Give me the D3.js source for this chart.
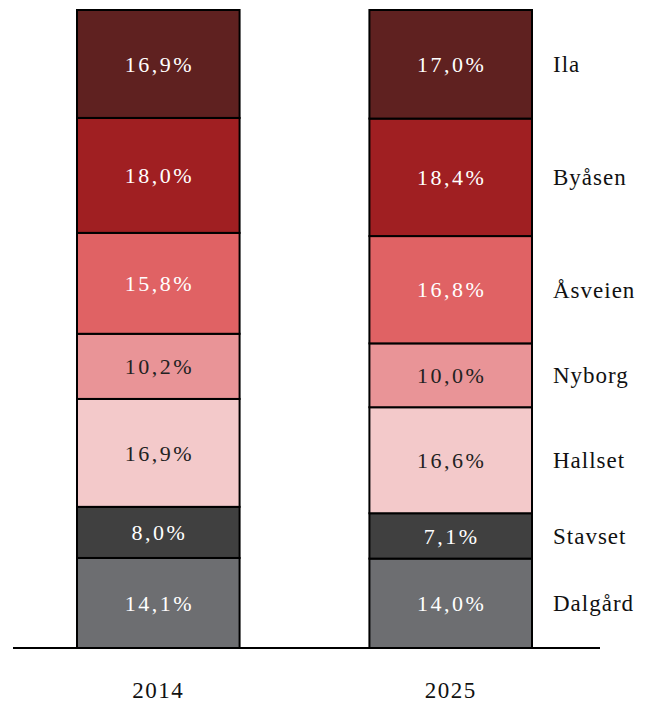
<!DOCTYPE html>
<html>
<head>
<meta charset="utf-8">
<script src="https://cdn.jsdelivr.net/npm/d3@7"></script>
<style>
  html, body { margin: 0; padding: 0; background: #fff; }
  svg text { font-family: "Liberation Serif", "DejaVu Serif", serif; }
</style>
</head>
<body>
<svg id="chart" width="649" height="704"></svg>
<script>
// Share of population per district, stacked from bottom to top
const years = ["2014", "2025"];
const districts = ["Dalgård", "Stavset", "Hallset", "Nyborg", "Åsveien", "Byåsen", "Ila"];
const values2014 = [14.1, 8.0, 16.9, 10.2, 15.8, 18.0, 16.9];
const values2025 = [14.0, 7.1, 16.6, 10.0, 16.8, 18.4, 17.0];
const colors = ["#6d6e71", "#404040", "#f3c9ca", "#e99497", "#e06264", "#a01f22", "#5f2120"];
const labelColors = ["#ffffff", "#ffffff", "#222222", "#222222", "#ffffff", "#ffffff", "#ffffff"];

const rows = years.map((y, i) => {
  const vals = i === 0 ? values2014 : values2025;
  const r = { year: y };
  districts.forEach((d, j) => { r[d] = vals[j]; });
  return r;
});

const svg = d3.select("#chart");
const total = d3.max([d3.sum(values2014), d3.sum(values2025)]);

const x = d3.scaleBand().domain(years).range([77, 532]).paddingInner(0.444).paddingOuter(0);
const y = d3.scaleLinear().domain([0, total]).range([648, 10]);

const stack = d3.stack().keys(districts);
const series = stack(rows);

const fmt = v => v.toFixed(1).replace(".", ",") + "%";

const layers = svg.append("g").selectAll("g")
  .data(series)
  .join("g")
  .attr("fill", (d, i) => colors[i]);

layers.selectAll("rect")
  .data(d => d)
  .join("rect")
  .attr("x", d => x(d.data.year))
  .attr("width", x.bandwidth())
  .attr("y", d => y(d[1]))
  .attr("height", d => y(d[0]) - y(d[1]))
  .attr("stroke", "#000")
  .attr("stroke-width", 2);

// value labels inside segments
series.forEach((s, i) => {
  svg.append("g").selectAll("text")
    .data(s)
    .join("text")
    .attr("x", d => x(d.data.year) + x.bandwidth() / 2 + 1)
    .attr("y", d => (y(d[0]) + y(d[1])) / 2)
    .attr("dy", "0.35em")
    .attr("text-anchor", "middle")
    .attr("fill", labelColors[i])
    .style("font-size", "22px")
    .style("letter-spacing", "2.5px")
    .text(d => fmt(d.data[s.key]));
});

// district names to the right of the last bar
const last = years[years.length - 1];
svg.append("g").selectAll("text")
  .data(series)
  .join("text")
  .attr("x", x(last) + x.bandwidth() + 21)
  .attr("y", s => { const d = s[s.length - 1]; return (y(d[0]) + y(d[1])) / 2; })
  .attr("dy", "0.35em")
  .attr("fill", "#111")
  .style("font-size", "23px")
  .style("letter-spacing", "1px")
  .text(s => s.key);

// year labels under the baseline
const axis = d3.axisBottom(x).tickSize(0).tickPadding(34);
const ax = svg.append("g").attr("transform", `translate(0,${y(0)})`).call(axis);
ax.select(".domain").remove();
ax.selectAll(".tick text")
  .style("font-family", "\"Liberation Serif\", serif")
  .style("font-size", "23px")
  .style("letter-spacing", "1.5px")
  .attr("fill", "#111");

// baseline running past both bars
svg.append("line")
  .attr("x1", 13).attr("x2", 600)
  .attr("y1", y(0)).attr("y2", y(0))
  .attr("stroke", "#000").attr("stroke-width", 2);
</script>
</body>
</html>
